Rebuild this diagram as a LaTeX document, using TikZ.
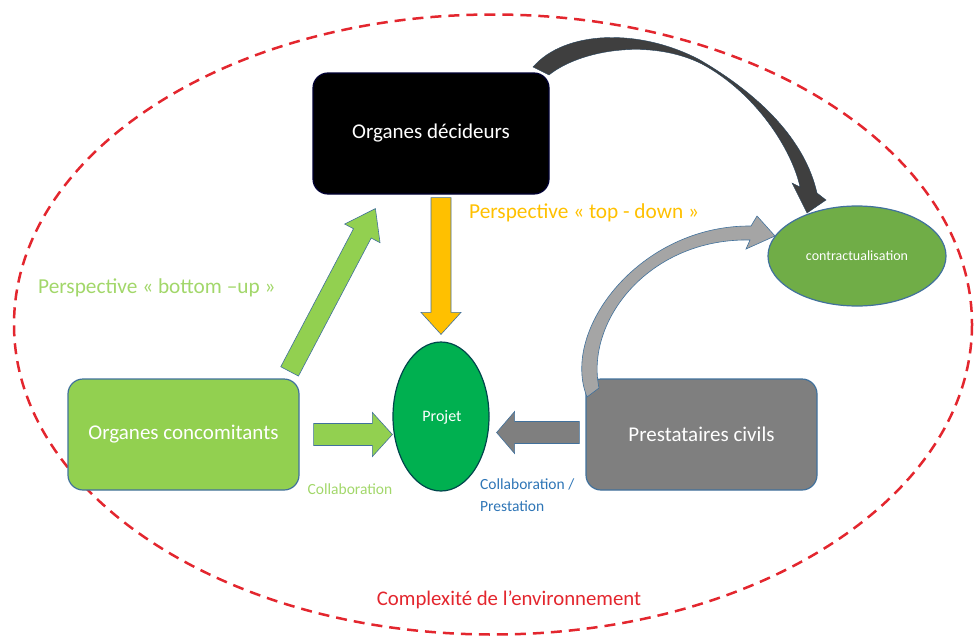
\documentclass[tikz,border=0pt]{standalone}
\usepackage{fontspec}
\setmainfont{Carlito}
\usetikzlibrary{calc,shapes.geometric}
\definecolor{lgreen}{HTML}{92D050}
\definecolor{pgreen}{HTML}{00B050}
\definecolor{cgreen}{HTML}{70AD47}
\definecolor{yell}{HTML}{FFC000}
\definecolor{edgeblue}{HTML}{41719C}
\definecolor{txtblue}{HTML}{2E75B6}
\definecolor{dred}{HTML}{E3262E}
\definecolor{gbox}{HTML}{7F7F7F}
\definecolor{garrow}{HTML}{A5A5A5}
\definecolor{darrow}{HTML}{3F3F3F}
\newcommand\blkarrow[6]{%
  \path[#1] let \p1=(#2), \p2=(#3),
    \n1={veclen(\x2-\x1,\y2-\y1)},
    \n2={atan2(\y2-\y1,\x2-\x1)} in
    [shift={(\p1)}, rotate=\n2]
    (0pt,-#4) -- ({\n1-#6},-#4) -- ({\n1-#6},-#5) -- (\n1,0pt)
    -- ({\n1-#6},#5) -- ({\n1-#6},#4) -- (0pt,#4) -- cycle;}
\tikzset{
  box/.style={draw=edgeblue, line width=1.2pt, rounded corners=15pt, text=white,
    font=\fontsize{21}{24}\selectfont, inner sep=0pt},
  oval/.style={ellipse, draw=edgeblue, line width=1.2pt, text=white, inner sep=0pt},
  lbl/.style={font=\fontsize{21.3}{24}\selectfont, inner sep=0pt},
  small/.style={font=\fontsize{15.5}{22}\selectfont, inner sep=0pt},
  yarrow/.style={fill=yell, draw=edgeblue, line width=0.6pt},
  garr/.style={fill=lgreen, draw=edgeblue, line width=0.6pt},
  grarr/.style={fill=gbox, draw=edgeblue, line width=0.6pt},
}
\begin{document}
\begin{tikzpicture}[x=1pt,y=-1pt]
\useasboundingbox (0,0) rectangle (974,637);
% environment
\draw[dred, line width=2.5pt, dash pattern=on 11pt off 7pt] (493,324.5) ellipse [x radius=479, y radius=310];
\node[text=dred, font=\fontsize{20.8}{24}\selectfont, inner sep=0pt] (env) at (509,600) {Complexité de l’environnement};
% nodes
\node[box, fill=black, draw=black!80!blue, minimum width=236pt, minimum height=121pt] (dec) at (431,133.5) {Organes décideurs};
\node[box, fill=lgreen, minimum width=231pt, minimum height=111pt] (conc) at (183.5,434.5) {Organes concomitants};
\node[box, fill=gbox, minimum width=231pt, minimum height=111pt] (pres) at (701.5,434.5) {Prestataires civils};
\node[oval, fill=pgreen, draw=black!60!green!70!blue, minimum width=96pt, minimum height=149pt] (proj) at (441,416.5) {};
\node[text=white, font=\fontsize{16}{18}\selectfont, inner sep=0pt] (projt) at (442,417) {Projet};
\node[oval, fill=cgreen, minimum width=178pt, minimum height=100pt, font=\fontsize{14}{16}\selectfont] (contr) at (857,256) {contractualisation};
% straight block arrows
\coordinate (y1) at ($(dec.south -| proj.north)+(0,3)$);
\coordinate (y2) at ($(proj.north)+(0,-7)$);
\blkarrow{yarrow}{y1}{y2}{10pt}{20pt}{22pt}
\coordinate (b1) at ($(conc.north east)+(-10,-7)$);
\coordinate (b2) at ($(dec.south west)+(63,14)$);
\blkarrow{garr}{b1}{b2}{10pt}{20pt}{28pt}
\coordinate (c1) at ($(conc.east)+(14,0)$);
\coordinate (c2) at (proj.west |- conc.east);
\blkarrow{garr}{c1}{c2}{11pt}{22pt}{20pt}
\coordinate (p1) at ($(pres.west)+(-6,-2)$);
\coordinate (p2) at ($(proj.east |- pres.west)+(7,-2)$);
\blkarrow{grarr}{p1}{p2}{11pt}{21pt}{18pt}
% curved arrows
\fill[darrow, draw=edgeblue!60!black, line width=0.4pt]
  (533,67) .. controls (565,30) and (640,28) .. (700,60)
  .. controls (760,95) and (805,140) .. (817,193)
  -- (826,200) -- (807,213) -- (792,183) -- (800,187)
  .. controls (792,150) and (756,93) .. (702,64)
  .. controls (650,38) and (580,50) .. (549,75) -- cycle;
\fill[garrow, draw=edgeblue, line width=0.6pt]
  (587,397) .. controls (560,330) and (640,225) .. (751,226)
  -- (757,216) -- (775,236) -- (746,249) -- (750,240)
  .. controls (650,238) and (585,320) .. (599,388) -- cycle;
% labels
\node[lbl, text=yell, anchor=west] (ltd) at (469,213) {Perspective « top - down »};
\node[lbl, text=lgreen!85!white, anchor=west] (lbu) at (38,288) {Perspective « bottom –up »};
\node[small, text=lgreen!85!white] (lc) at (350,489) {Collaboration};
\node[small, text=txtblue, anchor=north west, align=left] (lcp) at (480,479) {Collaboration /\\Prestation};
\end{tikzpicture}
\end{document}
